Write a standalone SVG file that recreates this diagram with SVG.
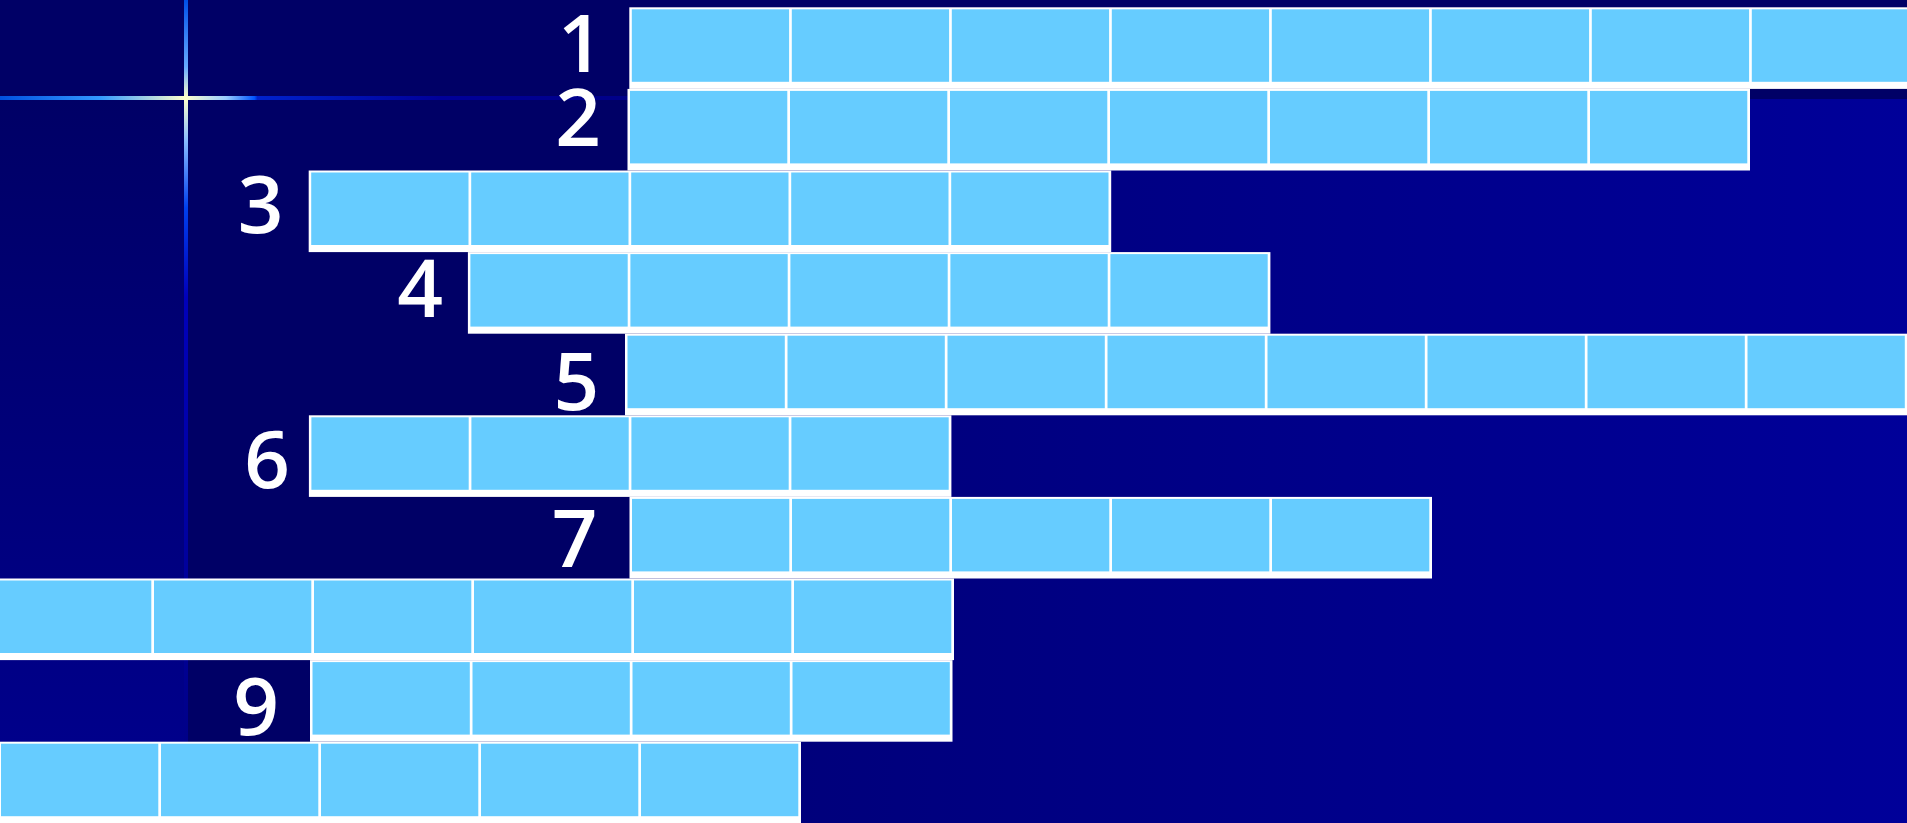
<svg xmlns="http://www.w3.org/2000/svg" width="1907" height="823" viewBox="0 0 1907 823">
  <style>
    .frame { fill: #ffffff; }
    .cell { fill: #66ccff; }
    .panel { fill: #000066; }
    .num { font-family: "Open Sans", "DejaVu Sans", sans-serif; font-weight: 600; font-size: 80px; fill: #ffffff; text-anchor: middle; }
  </style>
  <defs>
    <linearGradient id="bg" x1="0" y1="0" x2="1907" y2="0" gradientUnits="userSpaceOnUse">
      <stop offset="0" stop-color="#000066"/>
      <stop offset="1" stop-color="#000099"/>
    </linearGradient>
    <linearGradient id="strip" x1="0" y1="97" x2="0" y2="742" gradientUnits="userSpaceOnUse">
      <stop offset="0" stop-color="#000066"/>
      <stop offset="1" stop-color="#00008a"/>
    </linearGradient>
    <linearGradient id="hline" x1="0" y1="0" x2="628" y2="0" gradientUnits="userSpaceOnUse">
      <stop offset="0" stop-color="#0050e0"/>
      <stop offset="0.16" stop-color="#3399ff"/>
      <stop offset="0.295" stop-color="#ffffcc"/>
      <stop offset="0.36" stop-color="#99ccff"/>
      <stop offset="0.405" stop-color="#0055ff"/>
      <stop offset="0.41" stop-color="#0022cc"/>
      <stop offset="0.7" stop-color="#000099"/>
      <stop offset="1" stop-color="#000088"/>
    </linearGradient>
    <linearGradient id="vline" x1="0" y1="0" x2="0" y2="742" gradientUnits="userSpaceOnUse">
      <stop offset="0" stop-color="#0050e8"/>
      <stop offset="0.09" stop-color="#66aaff"/>
      <stop offset="0.132" stop-color="#ffffcc"/>
      <stop offset="0.19" stop-color="#88bbff"/>
      <stop offset="0.28" stop-color="#0040ee"/>
      <stop offset="0.4" stop-color="#0000bb"/>
      <stop offset="1" stop-color="#000088"/>
    </linearGradient>
  </defs>

  <!-- background -->
  <rect x="0" y="0" width="1907" height="823" fill="url(#bg)"/>
  <rect x="0" y="97" width="186" height="726" fill="url(#strip)"/>
  <rect x="0" y="0" width="1907" height="99" class="panel"/>
  <rect x="186" y="97" width="450" height="481" class="panel"/>
  <rect x="186" y="660" width="126" height="82" class="panel"/>
  <rect x="184" y="0" width="4" height="742" fill="url(#vline)"/>
  <rect x="0" y="96" width="628" height="4" fill="url(#hline)"/>

  <g id="connectors"></g>

  <g id="row-1">
    <rect class="frame" x="629.3" y="7.3" width="1282.5" height="81.6"/>
    <rect class="cell" x="631.8" y="9.3" width="157.3" height="72.5"/>
    <rect class="cell" x="791.8" y="9.3" width="157.3" height="72.5"/>
    <rect class="cell" x="951.8" y="9.3" width="157.3" height="72.5"/>
    <rect class="cell" x="1111.8" y="9.3" width="157.3" height="72.5"/>
    <rect class="cell" x="1271.8" y="9.3" width="157.3" height="72.5"/>
    <rect class="cell" x="1431.8" y="9.3" width="157.3" height="72.5"/>
    <rect class="cell" x="1591.8" y="9.3" width="157.3" height="72.5"/>
    <rect class="cell" x="1751.8" y="9.3" width="157.3" height="72.5"/>
    <text class="num" x="580.5" y="71.7">1</text>
  </g>

  <g id="row-2">
    <rect class="frame" x="627.5" y="88.9" width="1122.5" height="81.6"/>
    <rect class="cell" x="630" y="90.9" width="157.3" height="72.5"/>
    <rect class="cell" x="790" y="90.9" width="157.3" height="72.5"/>
    <rect class="cell" x="950" y="90.9" width="157.3" height="72.5"/>
    <rect class="cell" x="1110" y="90.9" width="157.3" height="72.5"/>
    <rect class="cell" x="1270" y="90.9" width="157.3" height="72.5"/>
    <rect class="cell" x="1430" y="90.9" width="157.3" height="72.5"/>
    <rect class="cell" x="1590" y="90.9" width="157.3" height="72.5"/>
    <text class="num" x="578" y="145.7">2</text>
  </g>

  <g id="row-3">
    <rect class="frame" x="308.7" y="170.5" width="802.5" height="81.6"/>
    <rect class="cell" x="311.2" y="172.5" width="157.3" height="72.5"/>
    <rect class="cell" x="471.2" y="172.5" width="157.3" height="72.5"/>
    <rect class="cell" x="631.2" y="172.5" width="157.3" height="72.5"/>
    <rect class="cell" x="791.2" y="172.5" width="157.3" height="72.5"/>
    <rect class="cell" x="951.2" y="172.5" width="157.3" height="72.5"/>
    <text class="num" x="260.5" y="233">3</text>
  </g>

  <g id="row-4">
    <rect class="frame" x="467.9" y="252.1" width="802.5" height="81.6"/>
    <rect class="cell" x="470.4" y="254.1" width="157.3" height="72.5"/>
    <rect class="cell" x="630.4" y="254.1" width="157.3" height="72.5"/>
    <rect class="cell" x="790.4" y="254.1" width="157.3" height="72.5"/>
    <rect class="cell" x="950.4" y="254.1" width="157.3" height="72.5"/>
    <rect class="cell" x="1110.4" y="254.1" width="157.3" height="72.5"/>
    <text class="num" x="420" y="317">4</text>
  </g>

  <g id="row-5">
    <rect class="frame" x="625" y="333.7" width="1282.5" height="81.6"/>
    <rect class="cell" x="627.5" y="335.7" width="157.3" height="72.5"/>
    <rect class="cell" x="787.5" y="335.7" width="157.3" height="72.5"/>
    <rect class="cell" x="947.5" y="335.7" width="157.3" height="72.5"/>
    <rect class="cell" x="1107.5" y="335.7" width="157.3" height="72.5"/>
    <rect class="cell" x="1267.5" y="335.7" width="157.3" height="72.5"/>
    <rect class="cell" x="1427.5" y="335.7" width="157.3" height="72.5"/>
    <rect class="cell" x="1587.5" y="335.7" width="157.3" height="72.5"/>
    <rect class="cell" x="1747.5" y="335.7" width="157.3" height="72.5"/>
    <text class="num" x="576.3" y="410">5</text>
  </g>

  <g id="row-6">
    <rect class="frame" x="308.9" y="415.3" width="642.5" height="81.6"/>
    <rect class="cell" x="311.4" y="417.3" width="157.3" height="72.5"/>
    <rect class="cell" x="471.4" y="417.3" width="157.3" height="72.5"/>
    <rect class="cell" x="631.4" y="417.3" width="157.3" height="72.5"/>
    <rect class="cell" x="791.4" y="417.3" width="157.3" height="72.5"/>
    <text class="num" x="267" y="488">6</text>
  </g>

  <g id="row-7">
    <rect class="frame" x="629.5" y="496.9" width="802.5" height="81.6"/>
    <rect class="cell" x="632" y="498.9" width="157.3" height="72.5"/>
    <rect class="cell" x="792" y="498.9" width="157.3" height="72.5"/>
    <rect class="cell" x="952" y="498.9" width="157.3" height="72.5"/>
    <rect class="cell" x="1112" y="498.9" width="157.3" height="72.5"/>
    <rect class="cell" x="1272" y="498.9" width="157.3" height="72.5"/>
    <text class="num" x="574.5" y="567">7</text>
  </g>

  <g id="row-8">
    <rect class="frame" x="-8.5" y="578.5" width="962.5" height="81.6"/>
    <rect class="cell" x="-6" y="580.5" width="157.3" height="72.5"/>
    <rect class="cell" x="154" y="580.5" width="157.3" height="72.5"/>
    <rect class="cell" x="314" y="580.5" width="157.3" height="72.5"/>
    <rect class="cell" x="474" y="580.5" width="157.3" height="72.5"/>
    <rect class="cell" x="634" y="580.5" width="157.3" height="72.5"/>
    <rect class="cell" x="794" y="580.5" width="157.3" height="72.5"/>
  </g>

  <g id="row-9">
    <rect class="frame" x="310" y="660.1" width="642.5" height="81.6"/>
    <rect class="cell" x="312.5" y="662.1" width="157.3" height="72.5"/>
    <rect class="cell" x="472.5" y="662.1" width="157.3" height="72.5"/>
    <rect class="cell" x="632.5" y="662.1" width="157.3" height="72.5"/>
    <rect class="cell" x="792.5" y="662.1" width="157.3" height="72.5"/>
    <text class="num" x="256" y="735">9</text>
  </g>

  <g id="row-10">
    <rect class="frame" x="-1.5" y="741.7" width="802.5" height="81.6"/>
    <rect class="cell" x="1" y="743.7" width="157.3" height="72.5"/>
    <rect class="cell" x="161" y="743.7" width="157.3" height="72.5"/>
    <rect class="cell" x="321" y="743.7" width="157.3" height="72.5"/>
    <rect class="cell" x="481" y="743.7" width="157.3" height="72.5"/>
    <rect class="cell" x="641" y="743.7" width="157.3" height="72.5"/>
  </g>
</svg>
